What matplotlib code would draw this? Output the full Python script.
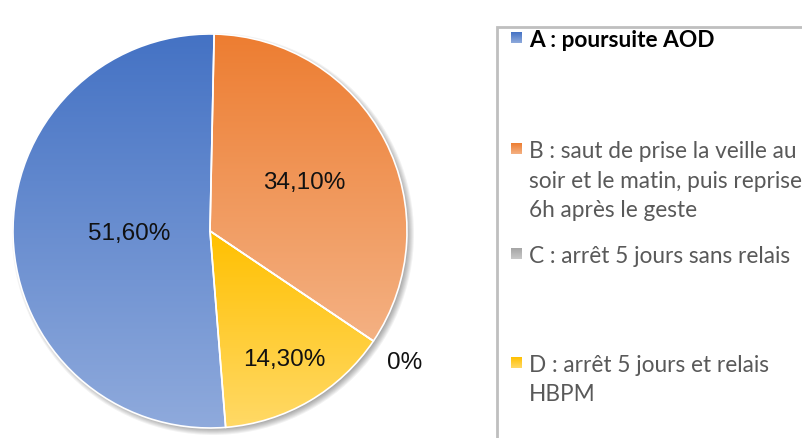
import numpy as np
import matplotlib
matplotlib.use("Agg")
import matplotlib.pyplot as plt
from matplotlib.patches import Circle, Rectangle
from matplotlib.colors import LinearSegmentedColormap

# Data
categories = ["A", "B", "C", "D"]
values = [51.6, 34.1, 0.0, 14.3]
legend_labels = [
    "A : poursuite AOD",
    "B : saut de prise la veille au\nsoir et le matin, puis reprise\n6h après le geste",
    "C : arrêt 5 jours sans relais",
    "D : arrêt 5 jours et relais\nHBPM",
]

# Styling
top_colors = ["#4472C4", "#ED7D31", "#A5A5A5", "#FFC000"]
bottom_colors = ["#8FAADC", "#F4B183", "#C9C9C9", "#FFD966"]
label_dist = [0.41, 0.54, 1.19, 0.75]
legend_baseline = [47, 158, 263, 372]  # px from top, first line
line_step = 29.5

W, H = 803, 439
fig = plt.figure(figsize=(W / 100, H / 100), dpi=100)
ax = fig.add_axes([0, 0, 1, 1])

cx, cy, R = 210, H - 232, 197


def fmt(v):
    if v == 0:
        return "0%"
    return f"{v:.2f}%".replace(".", ",")


# soft shadow under the pie
for i in range(8):
    ax.add_patch(Circle((cx + 3, cy - 3), R + 4 - i, color="#000000",
                        alpha=0.05, lw=0, zorder=1))

wedges, _ = ax.pie(values, startangle=-85.44, counterclock=False,
                   center=(cx, cy), radius=R,
                   wedgeprops=dict(edgecolor="white", linewidth=1.2, zorder=3))

grad = np.linspace(0, 1, 256).reshape(-1, 1)
for i, w in enumerate(wedges):
    w.set_zorder(3)
    if values[i] == 0:
        continue
    verts = w.get_path().vertices
    y0, y1 = verts[:, 1].min(), verts[:, 1].max()
    cmap = LinearSegmentedColormap.from_list(
        f"g{i}", [top_colors[i], bottom_colors[i]])
    im = ax.imshow(grad, cmap=cmap, aspect="auto", origin="upper",
                   extent=(cx - R, cx + R, y0, y1), zorder=2)
    im.set_clip_path(w)
    w.set_facecolor("none")

# percentage labels
for i, w in enumerate(wedges):
    mid = np.deg2rad((w.theta1 + w.theta2) / 2)
    d = label_dist[i] * R
    ax.text(cx + d * np.cos(mid), cy + d * np.sin(mid), fmt(values[i]),
            ha="center", va="center", fontsize=17.5,
            family="Liberation Sans", color="#111111", zorder=5)

# legend box
ax.add_patch(Rectangle((497, -10), 400, H - 28 + 10, fill=False,
                       edgecolor="#BFBFBF", linewidth=2, zorder=4))
for i, lab in enumerate(legend_labels):
    base = legend_baseline[i]
    mc = H - (base - 9)
    sq = LinearSegmentedColormap.from_list(
        f"s{i}", [top_colors[i], bottom_colors[i]])
    ax.imshow(grad, cmap=sq, aspect="auto", origin="upper",
              extent=(511, 522, mc - 5.5, mc + 5.5), zorder=5)
    for j, line in enumerate(lab.split("\n")):
        ax.text(529, H - (base + j * line_step), line, ha="left", va="baseline",
                fontsize=16.3, family="Lato",
                color="#000000" if i == 0 else "#595959",
                fontweight="bold" if i == 0 else "normal", zorder=5)

ax.set_xlim(0, W)
ax.set_ylim(0, H)
ax.set_aspect("equal")
ax.axis("off")

fig.savefig("out.png", dpi=100)
